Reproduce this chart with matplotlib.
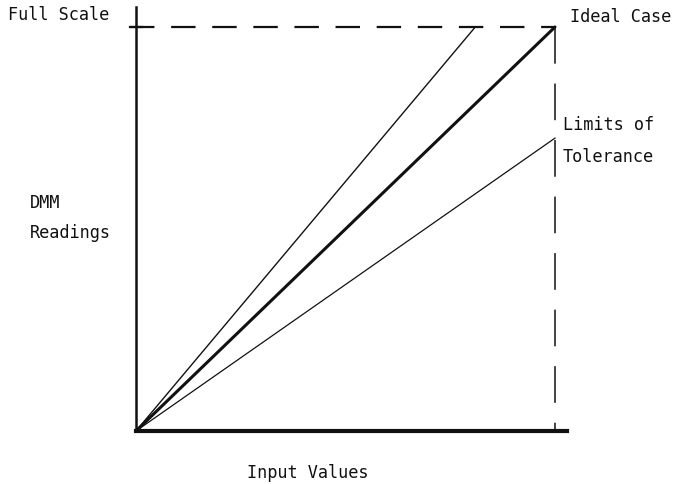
import matplotlib.pyplot as plt
import numpy as np

# input values, normalised to full scale
x_input = [0.0, 1.0]
ideal = [0.0, 1.0]
upper_slope = 1.235      # upper tolerance limit reaches full scale early
lower_end = 0.725        # lower tolerance limit at full-scale input
full_scale = 1.0

W, H = 674, 485
x0, y0 = 136, 432        # origin in pixels
px_x, px_y = 419, 404    # pixels per unit

fig = plt.figure(figsize=(W / 100, H / 100), dpi=100)
xmax, ymax = 1.029, 1.05
ax = fig.add_axes([x0 / W, (H - y0) / H, xmax * px_x / W, ymax * px_y / H])
ax.set_xlim(0, xmax)
ax.set_ylim(0, ymax)
ax.set_xticks([])
ax.set_yticks([])
for s in ("top", "right"):
    ax.spines[s].set_visible(False)
ax.spines["left"].set_linewidth(1.8)
ax.spines["bottom"].set_linewidth(3.0)
ax.patch.set_alpha(0)

ink = "#111111"
ax.spines["left"].set_color(ink)
ax.spines["bottom"].set_color(ink)

# full-scale reference line and its tick
ax.plot([-0.014, full_scale], [full_scale, full_scale], color=ink, lw=1.6,
        dashes=(11, 7.5), clip_on=False, solid_capstyle="butt")
ax.plot([-0.014, 0.014], [full_scale, full_scale], color=ink, lw=1.6, clip_on=False)
# full-scale input marker
ax.plot([1.0, 1.0], [full_scale, 0], color=ink, lw=1.1, dashes=(24, 13))

# ideal response and tolerance limits
x = np.array(x_input)
ax.plot(x, ideal, color=ink, lw=2.2, solid_capstyle="round")
ax.plot([0, full_scale / upper_slope], [0, full_scale], color=ink, lw=1.0)
ax.plot([0, 1.0], [0, lower_end], color=ink, lw=0.9)

font = dict(family="DejaVu Sans Mono", fontsize=12.2, color=ink)
fig.text(8 / W, 1 - 15 / H, "Full Scale", ha="left", va="center", **font)
fig.text(570 / W, 1 - 17 / H, "Ideal Case", ha="left", va="center", **font)
fig.text(563 / W, 1 - 125 / H, "Limits of", ha="left", va="center", **font)
fig.text(563 / W, 1 - 157 / H, "Tolerance", ha="left", va="center", **font)
fig.text(30 / W, 1 - 203 / H, "DMM", ha="left", va="center", **font)
fig.text(30 / W, 1 - 233 / H, "Readings", ha="left", va="center", **font)
fig.text(308 / W, 1 - 473 / H, "Input Values", ha="center", va="center", **font)

fig.savefig("out.png", dpi=100, facecolor="white")
